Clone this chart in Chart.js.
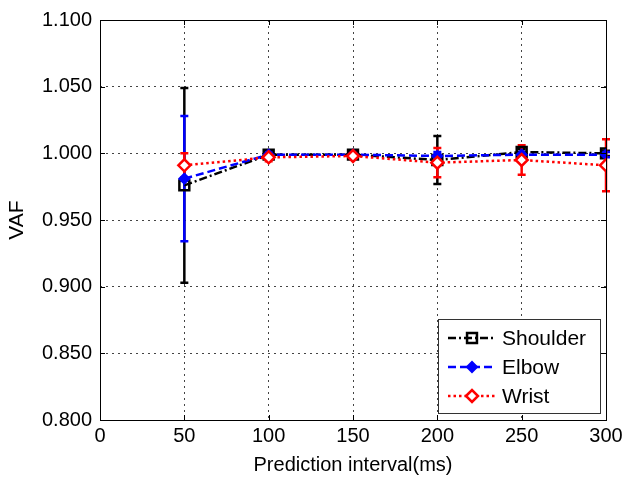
<!DOCTYPE html>
<html>
<head>
<meta charset="utf-8">
<script src="https://cdn.jsdelivr.net/npm/chart.js@4.4.1/dist/chart.umd.min.js"></script>
<style>
  html, body { margin:0; padding:0; background:#fff; }
  #wrap { width:630px; height:482px; }
</style>
</head>
<body>
<div id="wrap"><canvas id="vaf"></canvas></div>
<script>
const intervals = [50, 100, 150, 200, 250, 300];
const shoulder    = [0.976, 0.999, 0.999, 0.995, 1.001, 1.000];
const shoulderErr = [0.073, 0.002, 0.002, 0.018, 0.002, 0.002];
const elbow       = [0.981, 0.999, 0.999, 0.998, 0.999, 0.999];
const elbowErr    = [0.047, 0.002, 0.001, 0.003, 0.002, 0.002];
const wrist       = [0.991, 0.997, 0.998, 0.993, 0.995, 0.991];
const wristErr    = [0.009, 0.003, 0.002, 0.011, 0.011, 0.0195];
const xTicks = [0, 50, 100, 150, 200, 250, 300];
const yTicks = [0.800, 0.850, 0.900, 0.950, 1.000, 1.050, 1.100];

const FONT = 'Liberation Sans, Arial, sans-serif';
const pts = (vals) => vals.map((v, i) => ({ x: intervals[i], y: v }));

// vertical error bars with caps, drawn through the scales (shoulder first, wrist last)
const errorBars = {
  id: 'errorBars',
  beforeDatasetsDraw(chart) {
    const { ctx, scales: { x, y } } = chart;
    ctx.save();
    chart.data.datasets.forEach(ds => {
      ctx.strokeStyle = ds.borderColor;
      ctx.lineWidth = 2.5;
      ctx.setLineDash([]);
      ds.data.forEach((p, i) => {
        const e = ds.errors[i];
        const px = x.getPixelForValue(p.x);
        const top = y.getPixelForValue(p.y + e), bot = y.getPixelForValue(p.y - e);
        ctx.beginPath();
        ctx.moveTo(px, top); ctx.lineTo(px, bot);
        ctx.moveTo(px - 4, top); ctx.lineTo(px + 4, top);
        ctx.moveTo(px - 4, bot); ctx.lineTo(px + 4, bot);
        ctx.stroke();
      });
    });
    ctx.restore();
  }
};

// matlab style box, inward ticks and legend
const frame = {
  id: 'frame',
  afterDraw(chart) {
    const { ctx, chartArea: a, scales: { x, y } } = chart;
    ctx.save();
    ctx.strokeStyle = '#000';
    ctx.lineWidth = 1;
    ctx.setLineDash([]);
    ctx.strokeRect(a.left + 0.5, a.top + 0.5, a.right - a.left, a.bottom - a.top);
    ctx.beginPath();
    xTicks.forEach(t => {
      const px = Math.round(x.getPixelForValue(t)) + 0.5;
      ctx.moveTo(px, a.bottom); ctx.lineTo(px, a.bottom - 5);
      ctx.moveTo(px, a.top); ctx.lineTo(px, a.top + 5);
    });
    yTicks.forEach(t => {
      const py = Math.round(y.getPixelForValue(t)) + 0.5;
      ctx.moveTo(a.left, py); ctx.lineTo(a.left + 5, py);
      ctx.moveTo(a.right, py); ctx.lineTo(a.right - 5, py);
    });
    ctx.stroke();

    // legend
    const lx = 438, ly = 319, lw = 162, lh = 94;
    ctx.fillStyle = '#fff';
    ctx.fillRect(lx, ly, lw, lh);
    ctx.strokeStyle = '#333';
    ctx.strokeRect(lx + 0.5, ly + 0.5, lw, lh);
    chart.data.datasets.forEach((ds, i) => {
      const cy = ly + 19 + i * 29;
      ctx.strokeStyle = ds.borderColor;
      ctx.lineWidth = ds.borderWidth;
      ctx.setLineDash(ds.borderDash);
      ctx.beginPath();
      ctx.moveTo(lx + 10, cy); ctx.lineTo(lx + 58, cy);
      ctx.stroke();
      ctx.setLineDash([]);
      ctx.fillStyle = ds.pointBackgroundColor;
      ctx.lineWidth = ds.pointBorderWidth;
      Chart.helpers.drawPoint(ctx, { pointStyle: ds.pointStyle, radius: ds.pointRadius, rotation: 0, borderWidth: ds.pointBorderWidth }, lx + 34, cy);
      ctx.fillStyle = '#000';
      ctx.font = '21px ' + FONT;
      ctx.textBaseline = 'middle';
      ctx.fillText(ds.label, lx + 64, cy + 1);
    });
    ctx.restore();
  }
};

new Chart(document.getElementById('vaf'), {
  type: 'line',
  data: {
    datasets: [
      { label: 'Shoulder', data: pts(shoulder), errors: shoulderErr, order: 3,
        borderColor: '#000', borderWidth: 2.5, borderDash: [8, 3, 2, 3],
        pointStyle: 'rect', pointRadius: 7, pointBorderWidth: 2.5,
        pointBackgroundColor: 'rgba(0,0,0,0)', pointBorderColor: '#000' },
      { label: 'Elbow', data: pts(elbow), errors: elbowErr, order: 2,
        borderColor: '#0000ff', borderWidth: 2.5, borderDash: [8, 4],
        pointStyle: 'rectRot', pointRadius: 5, pointBorderWidth: 2,
        pointBackgroundColor: '#0000ff', pointBorderColor: '#0000ff' },
      { label: 'Wrist', data: pts(wrist), errors: wristErr, order: 1,
        borderColor: '#ff0000', borderWidth: 2.5, borderDash: [2.5, 3],
        pointStyle: 'rectRot', pointRadius: 6, pointBorderWidth: 2.5,
        pointBackgroundColor: '#fff', pointBorderColor: '#ff0000' }
    ]
  },
  options: {
    responsive: true,
    maintainAspectRatio: false,
    animation: false,
    layout: { padding: { top: 14, right: 24, bottom: 0, left: 0 } },
    plugins: { legend: { display: false }, tooltip: { enabled: false } },
    scales: {
      x: {
        type: 'linear', min: 0, max: 300,
        afterFit: s => { s.height = 62; },
        afterBuildTicks: s => { s.ticks = xTicks.map(v => ({ value: v })); },
        grid: { color: '#444', lineWidth: 1, drawTicks: false },
        border: { display: false, dash: [2, 4] },
        ticks: { color: '#000', padding: 4, font: { family: FONT, size: 20 } },
        title: { display: true, text: 'Prediction interval(ms)', color: '#000',
                 padding: { bottom: 5 }, font: { family: FONT, size: 20 } }
      },
      y: {
        type: 'linear', min: 0.8, max: 1.1,
        afterFit: s => { s.width = 100; },
        afterBuildTicks: s => { s.ticks = yTicks.map(v => ({ value: v })); },
        grid: { color: '#444', lineWidth: 1, drawTicks: false },
        border: { display: false, dash: [2, 4] },
        ticks: { color: '#000', padding: 8, font: { family: FONT, size: 20 },
                 callback: v => v.toFixed(3) },
        title: { display: true, text: 'VAF', color: '#000',
                 padding: { top: 5 }, font: { family: FONT, size: 21 } }
      }
    }
  },
  plugins: [errorBars, frame]
});
</script>
</body>
</html>
